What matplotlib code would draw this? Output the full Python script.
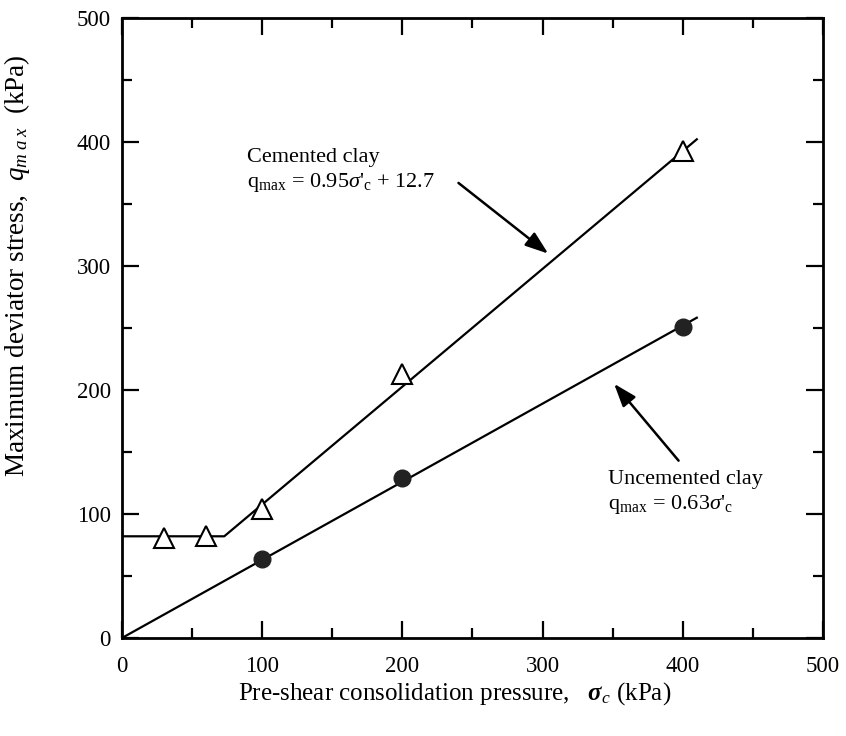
import numpy as np
import matplotlib
matplotlib.use("Agg", force=True)
import matplotlib.pyplot as plt
from matplotlib.ticker import MultipleLocator

plt.rcParams["font.family"] = ["Liberation Serif", "DejaVu Serif"]
plt.rcParams["mathtext.fontset"] = "custom"
plt.rcParams["mathtext.rm"] = "Liberation Serif"
plt.rcParams["mathtext.it"] = "Liberation Serif:italic"
plt.rcParams["mathtext.bf"] = "Liberation Serif:bold:italic"

# measured points
cemented_p = [30, 60, 100, 200, 400]
cemented_q = [81, 82, 104, 213, 393]
uncemented_p = [100, 200, 400]
uncemented_q = [64, 129, 251]

# fitted lines
cem_slope, cem_icpt = 0.95, 12.7
cem_plateau = 82
uncem_slope = 0.63
line_end = 410

fig = plt.figure(figsize=(8.46, 7.36), dpi=100)
ax = fig.add_axes([0.1442, 0.1332, 0.8286, 0.8423])

# cemented: plateau then linear
p_break = (cem_plateau - cem_icpt) / cem_slope
ax.plot([0, p_break, line_end],
        [cem_plateau, cem_plateau, cem_slope * line_end + cem_icpt],
        color="black", lw=1.6, zorder=2)
ax.plot([0, line_end], [0, uncem_slope * line_end], color="black", lw=1.6, zorder=2)

ax.plot(cemented_p, cemented_q, linestyle="none", marker="^", markersize=14,
        markerfacecolor="white", markeredgecolor="black", markeredgewidth=1.5, zorder=3)
ax.plot(uncemented_p, uncemented_q, linestyle="none", marker="o", markersize=12,
        markerfacecolor="#222222", markeredgecolor="#222222", zorder=3)

arrow = dict(arrowstyle="-|>,head_length=1.4,head_width=0.5", color="black", lw=1.8,
             shrinkA=0, shrinkB=0)
ax.annotate("", xy=(304, 310), xytext=(240, 367), arrowprops=arrow)
ax.annotate("", xy=(351, 205), xytext=(397, 143), arrowprops=arrow)

ax.text(89, 384, "Cemented clay", fontsize=16)
ax.text(89, 364, r"q$_{\rm max}$ = 0.95$\sigma$'$_{\rm c}$ + 12.7", fontsize=16)
ax.text(347, 124, "Uncemented clay", fontsize=16)
ax.text(347, 104, r"q$_{\rm max}$ = 0.63$\sigma$'$_{\rm c}$", fontsize=16)

ax.set_xlim(0, 500)
ax.set_ylim(0, 500)
ax.xaxis.set_major_locator(MultipleLocator(100))
ax.xaxis.set_minor_locator(MultipleLocator(50))
ax.yaxis.set_major_locator(MultipleLocator(100))
ax.yaxis.set_minor_locator(MultipleLocator(50))
ax.tick_params(which="both", direction="in", top=True, right=True, width=1.6, labelsize=16.5)
ax.tick_params(axis="x", which="major", pad=13)
ax.tick_params(axis="y", which="major", pad=8)
ax.tick_params(which="major", length=12)
ax.tick_params(which="minor", length=7)
for s in ax.spines.values():
    s.set_linewidth(2)

ax.set_xlabel(r"Pre-shear consolidation pressure,   $\mathbf{\sigma}_c$ (kPa)", fontsize=18)
ax.set_ylabel(r"Maximum deviator stress,  $q_{m\;a\;x}$  (kPa)", fontsize=19.5)
ax.xaxis.set_label_coords(0.475, -0.068)
ax.yaxis.set_label_coords(-0.128, 0.60)

fig.savefig("out.png", dpi=100)
